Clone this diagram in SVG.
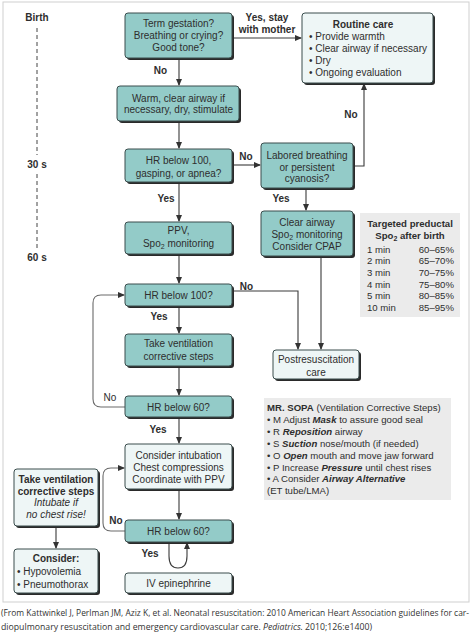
<svg xmlns="http://www.w3.org/2000/svg" width="474" height="638" viewBox="0 0 474 638">
<style>
text{font-family:"Liberation Sans",Arial,sans-serif;font-size:10px;fill:#2e2e2e}
.c{text-anchor:middle}
.b{font-weight:bold}
.bi{font-weight:bold;font-style:italic}
.i{font-style:italic}
.sh{fill:#2a2a2a}
.teal{fill:#93cbc8;stroke:#3a4d4d;stroke-width:1}
.pale{fill:#eef6f6;stroke:#3a4d4d;stroke-width:1}
.panel{fill:#ebebeb}
.ln{fill:none;stroke:#3a3a3a;stroke-width:1.1}
.lg{fill:none;stroke:#6a6a6a;stroke-width:1.1}
.sm{font-size:9.6px}
.cap{font-family:"Open Sans","Liberation Sans",sans-serif;font-size:8.4px;fill:#333}
</style>
<defs>
<marker id="ah" markerWidth="7" markerHeight="7" refX="6" refY="3.5" orient="auto" markerUnits="userSpaceOnUse">
<path d="M0,0.5 L7,3.5 L0,6.5 Z" fill="#333"/>
</marker>
</defs>
<rect x="0" y="0" width="474" height="638" fill="#ffffff"/>
<rect x="3" y="2" width="466" height="600" fill="#ffffff" stroke="#cfcfcf" stroke-width="1"/>

<g id="timeline">
<text x="37" y="21" class="c b">Birth</text>
<line x1="37" y1="28" x2="37" y2="155" stroke="#444" stroke-width="1" stroke-dasharray="4 3"/>
<text x="37" y="168" class="c b">30 s</text>
<line x1="37" y1="174" x2="37" y2="249" stroke="#444" stroke-width="1" stroke-dasharray="4 3"/>
<text x="37" y="261" class="c b">60 s</text>
</g>

<g id="connectors">
<path class="ln" d="M179,58 V85" marker-end="url(#ah)"/>
<path class="ln" d="M179,121 V148" marker-end="url(#ah)"/>
<path class="ln" d="M232,38 H301" marker-end="url(#ah)"/>
<path class="ln" d="M232,165 H260" marker-end="url(#ah)"/>
<path class="ln" d="M353,166 H364 V84" marker-end="url(#ah)"/>
<path class="ln" d="M306,188 V210" marker-end="url(#ah)"/>
<path class="ln" d="M179,182 V221" marker-end="url(#ah)"/>
<path class="ln" d="M179,254 V283" marker-end="url(#ah)"/>
<path class="ln" d="M232,291 H298 V349" marker-end="url(#ah)"/>
<path class="ln" d="M321,256 V349" marker-end="url(#ah)"/>
<path class="ln" d="M179,306 V333" marker-end="url(#ah)"/>
<path class="ln" d="M179,366 V395" marker-end="url(#ah)"/>
<path class="lg" d="M125,407 H101 Q93,407 93,399 V303 Q93,295 101,295 H124" marker-end="url(#ah)"/>
<path class="ln" d="M179,417 V443" marker-end="url(#ah)"/>
<path class="ln" d="M179,489 V519" marker-end="url(#ah)"/>
<path class="lg" d="M125,531 H111 Q103,531 103,523 V476 Q103,468 111,468 H124" marker-end="url(#ah)"/>
<path class="ln" d="M169,542 V556 Q169,568 178,568 Q187,568 187,556 V543" marker-end="url(#ah)"/>
<path class="ln" d="M56,526 V548" marker-end="url(#ah)"/>
<text x="160.5" y="73.5" class="c b">No</text>
<text x="267" y="20.5" class="c b">Yes, stay</text>
<text x="267" y="32.5" class="c b">with mother</text>
<text x="246" y="159.5" class="c b">No</text>
<text x="351" y="117.5" class="c b">No</text>
<text x="166" y="201.5" class="c b">Yes</text>
<text x="281" y="201.5" class="c b">Yes</text>
<text x="246.5" y="289.5" class="c b">No</text>
<text x="159" y="319.5" class="c b">Yes</text>
<text x="110" y="400.5" class="c">No</text>
<text x="158" y="432.5" class="c b">Yes</text>
<text x="116" y="523.5" class="c b">No</text>
<text x="150" y="556.5" class="c b">Yes</text>
</g>

<g id="n-term">
<rect x="127" y="15" width="107" height="45" rx="3" class="sh"/>
<rect x="125" y="13" width="107" height="45" rx="3" class="teal"/>
<text x="178.5" y="26.5" class="c">Term gestation?</text>
<text x="178.5" y="38.5" class="c">Breathing or crying?</text>
<text x="178.5" y="50.5" class="c">Good tone?</text>
</g>

<g id="n-routine">
<rect x="304" y="15" width="131" height="70" rx="3" class="sh"/>
<rect x="302" y="13" width="131" height="70" rx="3" class="pale"/>
<text x="363" y="27.5" class="c b">Routine care</text>
<text x="309" y="39.5">• Provide warmth</text>
<text x="309" y="51.5">• Clear airway if necessary</text>
<text x="309" y="63.5">• Dry</text>
<text x="309" y="75.5">• Ongoing evaluation</text>
</g>

<g id="n-warm">
<rect x="119" y="88" width="122" height="35" rx="3" class="sh"/>
<rect x="117" y="86" width="122" height="35" rx="3" class="teal"/>
<text x="178.5" y="101.5" class="c">Warm, clear airway if</text>
<text x="178.5" y="113" class="c">necessary, dry, stimulate</text>
</g>

<g id="n-hr100a">
<rect x="127" y="151" width="107" height="33" rx="3" class="sh"/>
<rect x="125" y="149" width="107" height="33" rx="3" class="teal"/>
<text x="178.5" y="163.5" class="c">HR below 100,</text>
<text x="178.5" y="176.5" class="c">gasping, or apnea?</text>
</g>

<g id="n-labored">
<rect x="263" y="145" width="92" height="45" rx="3" class="sh"/>
<rect x="261" y="143" width="92" height="45" rx="3" class="teal"/>
<text x="307" y="158.5" class="c">Labored breathing</text>
<text x="307" y="170.5" class="c">or persistent</text>
<text x="307" y="181.5" class="c">cyanosis?</text>
</g>

<g id="n-clear">
<rect x="263" y="213" width="92" height="45" rx="3" class="sh"/>
<rect x="261" y="211" width="92" height="45" rx="3" class="teal"/>
<text x="307" y="225.5" class="c">Clear airway</text>
<text x="307" y="237.5" class="c">Spo<tspan font-size="7" dy="2">2</tspan><tspan dy="-2"> monitoring</tspan></text>
<text x="307" y="249.5" class="c">Consider CPAP</text>
</g>

<g id="n-table">
<rect x="360" y="213" width="100" height="104" class="panel"/>
<text x="410" y="226.5" class="c b sm">Targeted preductal</text>
<text x="410" y="238.5" class="c b sm">Spo<tspan font-size="7" dy="2">2</tspan><tspan dy="-2"> after birth</tspan></text>
<text x="367" y="252.5" class="sm">1 min</text><text x="454" y="252.5" class="sm" text-anchor="end">60–65%</text>
<text x="367" y="264.2" class="sm">2 min</text><text x="454" y="264.2" class="sm" text-anchor="end">65–70%</text>
<text x="367" y="275.9" class="sm">3 min</text><text x="454" y="275.9" class="sm" text-anchor="end">70–75%</text>
<text x="367" y="287.6" class="sm">4 min</text><text x="454" y="287.6" class="sm" text-anchor="end">75–80%</text>
<text x="367" y="299.3" class="sm">5 min</text><text x="454" y="299.3" class="sm" text-anchor="end">80–85%</text>
<text x="367" y="311" class="sm">10 min</text><text x="454" y="311" class="sm" text-anchor="end">85–95%</text>
</g>

<g id="n-ppv">
<rect x="127" y="224" width="107" height="32" rx="3" class="sh"/>
<rect x="125" y="222" width="107" height="32" rx="3" class="teal"/>
<text x="178.5" y="233.5" class="c">PPV,</text>
<text x="178.5" y="246.5" class="c">Spo<tspan font-size="7" dy="2">2</tspan><tspan dy="-2"> monitoring</tspan></text>
</g>

<g id="n-hr100b">
<rect x="127" y="286" width="107" height="22" rx="3" class="sh"/>
<rect x="125" y="284" width="107" height="22" rx="3" class="teal"/>
<text x="178.5" y="298.5" class="c">HR below 100?</text>
</g>

<g id="n-takevent">
<rect x="127" y="336" width="107" height="32" rx="3" class="sh"/>
<rect x="125" y="334" width="107" height="32" rx="3" class="teal"/>
<text x="178.5" y="346.5" class="c">Take ventilation</text>
<text x="178.5" y="359.5" class="c">corrective steps</text>
</g>

<g id="n-postresus">
<rect x="275" y="352" width="86" height="29" rx="3" class="sh"/>
<rect x="273" y="350" width="86" height="29" rx="3" class="pale"/>
<text x="316" y="362.5" class="c">Postresuscitation</text>
<text x="316" y="375.5" class="c">care</text>
</g>

<g id="n-hr60a">
<rect x="127" y="398" width="107" height="21" rx="3" class="sh"/>
<rect x="125" y="396" width="107" height="21" rx="3" class="teal"/>
<text x="178.5" y="410.5" class="c">HR below 60?</text>
</g>

<g id="n-mrsopa">
<rect x="264" y="398" width="187" height="102" class="panel"/>
<text x="267" y="410.5" class="sm"><tspan class="b">MR. SOPA</tspan> (Ventilation Corrective Steps)</text>
<text x="267" y="422.5" class="sm">• M Adjust <tspan class="bi">Mask</tspan> to assure good seal</text>
<text x="267" y="434.5" class="sm">• R <tspan class="bi">Reposition</tspan> airway</text>
<text x="267" y="446.5" class="sm">• S <tspan class="bi">Suction</tspan> nose/mouth (if needed)</text>
<text x="267" y="458.5" class="sm">• O <tspan class="bi">Open</tspan> mouth and move jaw forward</text>
<text x="267" y="470.5" class="sm">• P Increase <tspan class="bi">Pressure</tspan> until chest rises</text>
<text x="267" y="482" class="sm">• A Consider <tspan class="bi">Airway Alternative</tspan></text>
<text x="267" y="494" class="sm">(ET tube/LMA)</text>
</g>

<g id="n-intub">
<rect x="127" y="446" width="107" height="45" rx="3" class="sh"/>
<rect x="125" y="444" width="107" height="45" rx="3" class="pale"/>
<text x="178.5" y="458.5" class="c">Consider intubation</text>
<text x="178.5" y="470.5" class="c">Chest compressions</text>
<text x="178.5" y="482.5" class="c">Coordinate with PPV</text>
</g>

<g id="n-leftvent">
<rect x="16" y="471" width="84" height="57" rx="3" class="sh"/>
<rect x="14" y="469" width="84" height="57" rx="3" class="pale"/>
<text x="56" y="482.5" class="c b">Take ventilation</text>
<text x="56" y="494.5" class="c b">corrective steps</text>
<text x="56" y="505.5" class="c i">Intubate if</text>
<text x="56" y="517.5" class="c i">no chest rise!</text>
</g>

<g id="n-hr60b">
<rect x="127" y="522" width="107" height="22" rx="3" class="sh"/>
<rect x="125" y="520" width="107" height="22" rx="3" class="teal"/>
<text x="178.5" y="534.5" class="c">HR below 60?</text>
</g>

<g id="n-consider">
<rect x="16" y="551" width="84" height="44" rx="3" class="sh"/>
<rect x="14" y="549" width="84" height="44" rx="3" class="pale"/>
<text x="56" y="561.5" class="c b">Consider:</text>
<text x="17" y="574.5">• Hypovolemia</text>
<text x="17" y="587.5">• Pneumothorax</text>
</g>

<g id="n-epi">
<rect x="127" y="575" width="107" height="20" rx="3" class="sh"/>
<rect x="125" y="573" width="107" height="20" rx="3" class="pale"/>
<text x="178.5" y="587" class="c">IV epinephrine</text>
</g>

<g id="caption">
<text x="1" y="616" class="cap" textLength="468" lengthAdjust="spacingAndGlyphs">(From Kattwinkel J, Perlman JM, Aziz K, et al. Neonatal resuscitation: 2010 American Heart Association guidelines for car-</text>
<text x="1" y="630" class="cap" textLength="371" lengthAdjust="spacingAndGlyphs">diopulmonary resuscitation and emergency cardiovascular care. <tspan class="i">Pediatrics.</tspan> 2010;126:e1400)</text>
</g>
</svg>
